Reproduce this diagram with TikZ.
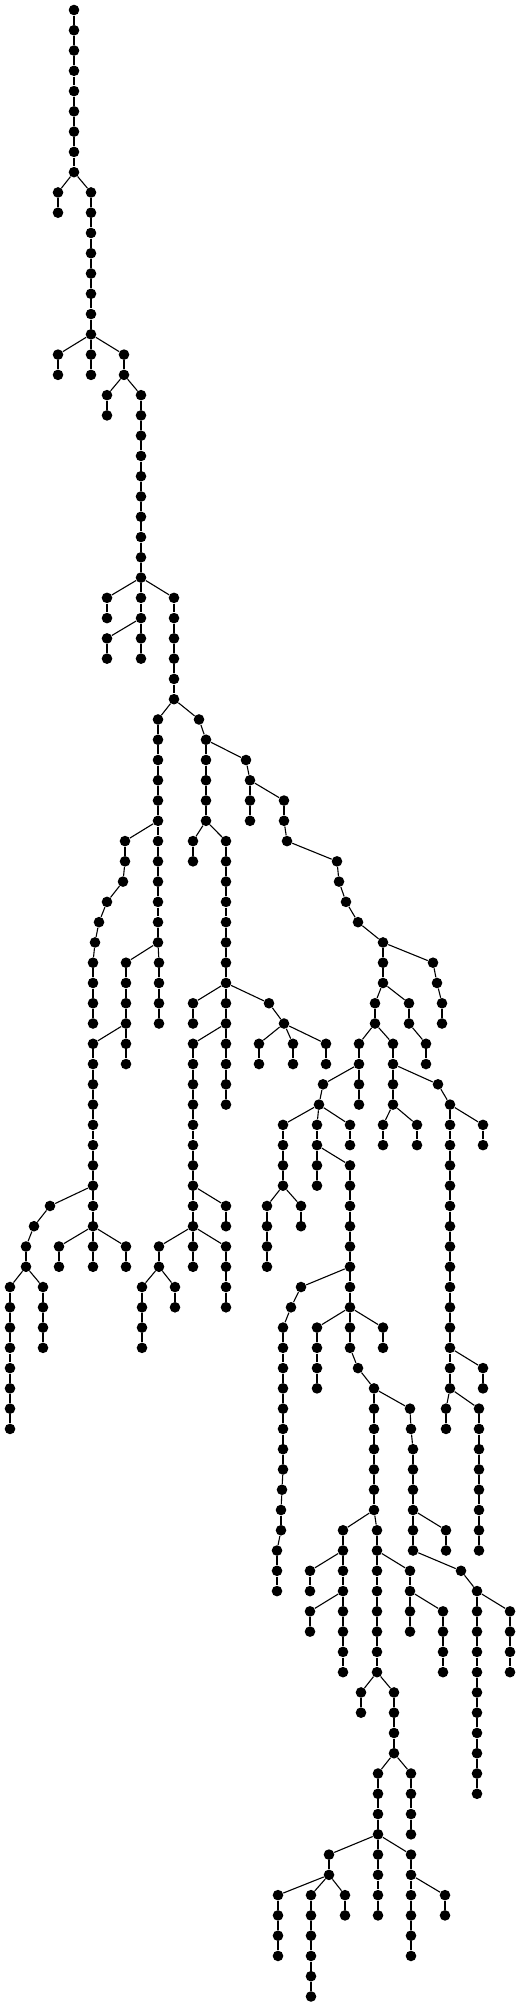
\documentclass[tikz,border=0pt]{standalone}
\usepackage{tikz}
\usetikzlibrary {positioning}
\newcommand*{\vchain}[5]{%
  \foreach \k in {#3,...,#4}{\node[vert] (#1\k) at (#2,\k) {};}
  \draw[link] (#5) -- (#1#3);
  \foreach \k [evaluate=\k as \j using int(\k-1)] in {#3,...,#4}{%
    \ifnum\k>#3\relax \draw[link] (#1\j) -- (#1\k);\fi}}
\newcommand*{\vone}[4]{%
  \node[vert] (#1) at (#2,#3) {};
  \draw[link] (#4) -- (#1);}

\begin{document}
\begin{tikzpicture}[
        x=0.5pt, y=-10.135pt,
        vert/.style={circle, fill=black, inner sep=0pt, minimum size=5.3pt},
        link/.style={black, line width=0.55pt},
        ]
        \useasboundingbox (0,-0.4933) rectangle (520,98.47);

        \foreach \k in {0,...,8}{\node[vert] (A\k) at (74,\k) {};}
        \foreach \k [evaluate=\k as \j using int(\k-1)] in {1,...,8}{\draw[link] (A\j) -- (A\k);}

        \vchain{B}{58}{9}{10}{A8}
        \vchain{C}{91}{9}{16}{A8}
        \vchain{D}{58}{17}{18}{C16}
        \vchain{E}{91}{17}{18}{C16}
        \vchain{F}{124}{17}{18}{C16}
        \vchain{G}{107}{19}{20}{F18}
        \vchain{H}{141}{19}{28}{F18}
        \vchain{I}{107}{29}{30}{H28}
        \vchain{J}{141}{29}{30}{H28}
        \vchain{K}{174}{29}{34}{H28}
        \vchain{L}{107}{31}{32}{J30}
        \vchain{M}{141}{31}{32}{J30}
        \vchain{N}{158}{35}{40}{K34}
        \vone{O35}{199}{35}{K34}
        \vchain{P}{206}{36}{40}{O35}

        % left part
        \vchain{Q}{125}{41}{42}{N40}
        \vone{Q43}{123}{43}{Q42}
        \vone{Q44}{107}{44}{Q43}
        \vone{Q45}{99}{45}{Q44}
        \vone{Q46}{95}{46}{Q45}
        \vchain{Q}{93}{47}{50}{Q46}
        \vchain{R}{158}{41}{46}{N40}
        \vchain{S}{126}{47}{52}{R46}
        \vchain{T}{159}{47}{50}{R46}
        \vchain{U}{93}{51}{58}{S50}
        \vone{V59}{50}{59}{U58}
        \vone{V60}{34}{60}{V59}
        \vchain{V}{26}{61}{62}{V60}
        \vchain{W}{93}{59}{60}{U58}
        \vchain{X}{10}{63}{70}{V62}
        \vchain{Y}{43}{63}{66}{V62}
        \vchain{Za}{59}{61}{62}{W60}
        \vchain{Zb}{93}{61}{62}{W60}
        \vchain{Zc}{126}{61}{62}{W60}

        % middle part
        \vchain{Pa}{193}{41}{42}{P40}
        \vchain{Pb}{226}{41}{48}{P40}
        \vchain{Pc}{193}{49}{50}{Pb48}
        \vchain{Pd}{226}{49}{50}{Pb48}
        \vone{Pe49}{269}{49}{Pb48}
        \vone{Pe50}{284}{50}{Pe49}
        \vchain{Pf}{259}{51}{52}{Pe50}
        \vchain{Pg}{293}{51}{52}{Pe50}
        \vchain{Ph}{326}{51}{52}{Pe50}
        \vchain{Pi}{193}{51}{58}{Pd50}
        \vchain{Pj}{226}{51}{54}{Pd50}
        \vchain{Pk}{193}{59}{60}{Pi58}
        \vchain{Pl}{226}{59}{60}{Pi58}
        \vchain{Pm}{159}{61}{62}{Pk60}
        \vchain{Pn}{193}{61}{62}{Pk60}
        \vchain{Po}{226}{61}{64}{Pk60}
        \vchain{Pp}{142}{63}{66}{Pm62}
        \vchain{Pq}{175}{63}{64}{Pm62}

        % right part
        \vone{Ra37}{246}{37}{P36}
        \vone{Ra38}{250}{38}{Ra37}
        \vchain{Rb}{250}{39}{40}{Ra38}
        \vchain{Rc}{284}{39}{40}{Ra38}
        \vone{Rc41}{287}{41}{Rc40}
        \vone{Rc42}{337}{42}{Rc41}
        \vone{Rc43}{339}{43}{Rc42}
        \vone{Rc44}{346}{44}{Rc43}
        \vone{Rc45}{358}{45}{Rc44}
        \vone{Rc46}{383}{46}{Rc45}
        \vchain{Rd}{383}{47}{48}{Rc46}
        \vone{Re47}{433}{47}{Rc46}
        \vone{Re48}{437}{48}{Re47}
        \vchain{Re}{442}{49}{50}{Re48}
        \vchain{Rf}{375}{49}{50}{Rd48}
        \vchain{Rg}{409}{49}{50}{Rd48}
        \vchain{Rg}{426}{51}{52}{Rg50}
        \vchain{Rh}{359}{51}{54}{Rf50}
        \vchain{Ri}{393}{51}{54}{Rf50}
        \vone{Rj53}{323}{53}{Rh52}
        \vone{Rj54}{319}{54}{Rj53}
        \vchain{Rk}{283}{55}{58}{Rj54}
        \vchain{Rl}{317}{55}{58}{Rj54}
        \vchain{Rm}{350}{55}{56}{Rj54}
        \vchain{Rn}{267}{59}{62}{Rk58}
        \vchain{Ro}{301}{59}{60}{Rk58}
        \vchain{Rp}{350}{57}{64}{Rl56}
        \vone{Rq63}{301}{63}{Rp62}
        \vone{Rq64}{291}{64}{Rq63}
        \vchain{Rq}{283}{65}{72}{Rq64}
        \vone{Rq73}{282}{73}{Rq72}
        \vchain{Rq}{281}{74}{75}{Rq73}
        \vchain{Rq}{277}{76}{78}{Rq75}
        \vchain{Rr}{317}{65}{68}{Rp64}
        \vchain{Rs}{350}{65}{66}{Rp64}
        \vone{Rs67}{358}{67}{Rs66}
        \vone{Rs68}{374}{68}{Rs67}
        \vchain{Rt}{383}{65}{66}{Rp64}
        \vchain{Ru}{374}{69}{74}{Rs68}
        \vone{Rv69}{410}{69}{Rs68}
        \vone{Rv70}{411}{70}{Rv69}
        \vchain{Rv}{413}{71}{76}{Rv70}
        \vchain{Rw}{343}{75}{78}{Ru74}
        \vchain{Rx}{377}{75}{82}{Ru74}
        \vchain{Ry}{310}{77}{78}{Rw76}
        \vchain{Rz}{310}{79}{80}{Rw78}
        \vchain{Sa}{343}{79}{82}{Rw78}
        \vchain{Sb}{410}{77}{80}{Rx76}
        \vchain{Sc}{443}{79}{82}{Sb78}
        \vchain{Sd}{361}{83}{84}{Rx82}
        \vchain{Se}{394}{83}{86}{Rx82}
        \vchain{Sf}{378}{87}{94}{Se86}
        \vchain{Sg}{411}{87}{90}{Se86}
        \vchain{Sh}{329}{91}{92}{Sf90}
        \vchain{Si}{411}{91}{96}{Sf90}
        \vchain{Sj}{278}{93}{96}{Sh92}
        \vchain{Sk}{311}{93}{98}{Sh92}
        \vchain{Sl}{345}{93}{94}{Sh92}
        \vchain{Sm}{445}{93}{94}{Si92}
        \vchain{Sn}{446}{75}{76}{Rv74}
        \vone{So77}{461}{77}{Rv76}
        \vchain{So}{477}{78}{88}{So77}
        \vchain{Sp}{510}{79}{82}{So78}
        \vone{Sq53}{438}{53}{Ri52}
        \vchain{Sq}{450}{54}{68}{Sq53}
        \vchain{Sr}{383}{55}{56}{Ri54}
        \vchain{Ss}{417}{55}{56}{Ri54}
        \vchain{St}{483}{55}{56}{Sq54}
        \vchain{Su}{483}{67}{68}{Sq66}
        \vchain{Sv}{446}{69}{70}{Sq68}
        \vchain{Sw}{479}{69}{76}{Sq68}
      \end{tikzpicture}
\end{document}
